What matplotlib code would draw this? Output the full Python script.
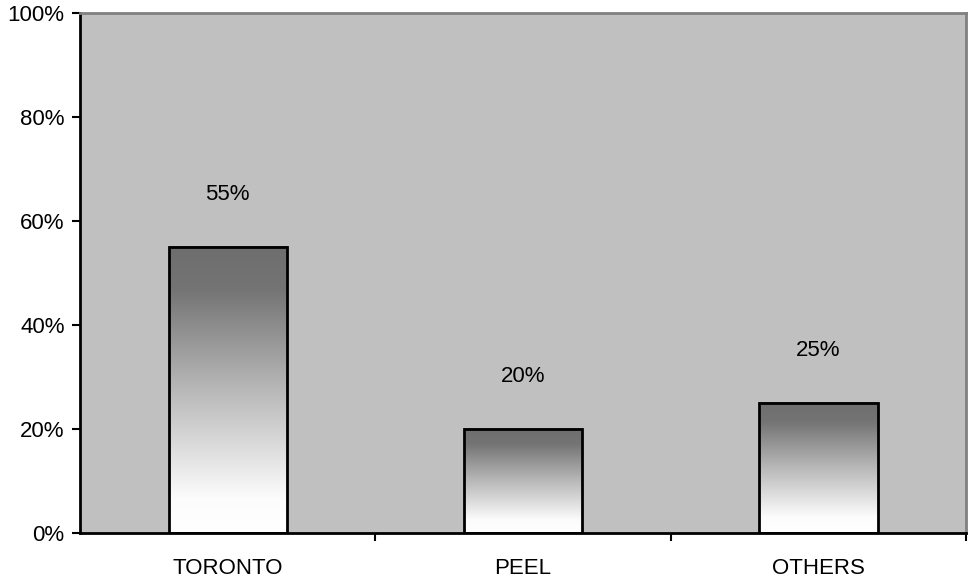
import numpy as np
import matplotlib.pyplot as plt
from matplotlib.colors import LinearSegmentedColormap
from matplotlib.ticker import FixedLocator

categories = ['TORONTO', 'PEEL', 'OTHERS']
shares = [55, 20, 25]

plt.rcParams['font.family'] = ['Liberation Sans', 'DejaVu Sans']

fig = plt.figure(figsize=(9.68, 5.78), dpi=100)
ax = fig.add_axes([0.0826, 0.078, 0.9155, 0.8997])
ax.set_facecolor('#c0c0c0')

x = np.arange(len(categories))
width = 0.4

# vertical fade: dark gray at the top of each bar, white at the base
fade = LinearSegmentedColormap.from_list(
    'fade', [(0.0, '#ffffff'), (0.12, '#fcfcfc'), (0.5, '#b8b8b8'),
             (0.85, '#747474'), (1.0, '#6e6e6e')])
grad = np.linspace(0, 1, 256).reshape(-1, 1)

bars = ax.bar(x, shares, width=width, facecolor='none', edgecolor='black', linewidth=2, zorder=3)
for b in bars:
    x0, y0 = b.get_x(), b.get_y()
    ax.imshow(grad, cmap=fade, origin='lower', aspect='auto', interpolation='bicubic',
              extent=[x0, x0 + b.get_width(), y0, y0 + b.get_height()], zorder=2)
ax.set_xlim(-0.5, len(categories) - 0.5)
ax.set_ylim(0, 100)

for xi, v in zip(x, shares):
    ax.text(xi, v + 10, f'{v}%', ha='center', va='center', fontsize=16)

ax.set_yticks(range(0, 101, 20))
ax.set_yticklabels([f'{t}%' for t in range(0, 101, 20)], fontsize=16)
ax.set_xticks(x)
ax.set_xticklabels(categories, fontsize=16)
ax.xaxis.set_minor_locator(FixedLocator([0.5, 1.5, 2.5]))
ax.tick_params(axis='x', which='major', length=0, pad=18)
ax.tick_params(axis='x', which='minor', length=6, width=1.5, direction='out')
ax.tick_params(axis='y', length=6, width=1.5, direction='out', pad=5)

for side in ('left', 'bottom'):
    ax.spines[side].set_color('black')
    ax.spines[side].set_linewidth(2)
for side in ('top', 'right'):
    ax.spines[side].set_color('#808080')
    ax.spines[side].set_linewidth(2)

fig.savefig('out.png', dpi=100)
